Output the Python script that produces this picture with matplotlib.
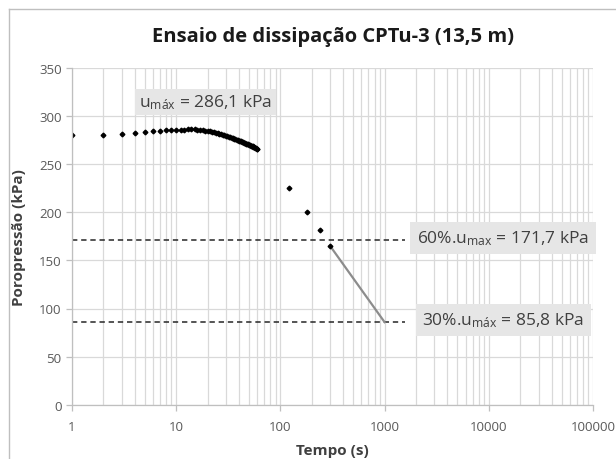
import matplotlib
matplotlib.use("Agg")
import matplotlib.pyplot as plt
from matplotlib.lines import Line2D
import numpy as np

# ---- data ----
time_s = list(range(1, 61)) + [120, 180, 240, 300]
pore_kpa = [280.0, 280.2, 281.3, 282.6, 283.4, 284.2, 284.7, 285.1, 285.4, 285.7,
            285.9, 286.0, 286.1, 286.1, 286.1, 285.9, 285.7, 285.4, 285.0, 284.6,
            284.1, 283.6, 283.1, 282.6, 282.1, 281.6, 281.1, 280.6, 280.1, 279.6,
            279.1, 278.6, 278.1, 277.6, 277.1, 276.6, 276.1, 275.6, 275.1, 274.6,
            274.1, 273.7, 273.2, 272.8, 272.3, 271.9, 271.4, 271.0, 270.5, 270.1,
            269.7, 269.2, 268.8, 268.4, 268.0, 267.5, 267.1, 266.7, 266.3, 265.9,
            225.0, 200.4, 181.2, 165.0]
u_max = 286.1
u_60 = 171.7
u_30 = 85.8
t50_line_t = [300, 1000]
t50_line_u = [165.0, 85.8]
dash_t = [1, 1570]

title = "Ensaio de dissipação CPTu-3 (13,5 m)"
xlabel = "Tempo (s)"
ylabel = "Poropressão (kPa)"
xticks = [1, 10, 100, 1000, 10000, 100000]
xticklabels = ["1", "10", "100", "1000", "10000", "100000"]
yticks = [0, 50, 100, 150, 200, 250, 300, 350]

FONT = "Open Sans"
plt.rcParams['font.family'] = [FONT, 'DejaVu Sans']
plt.rcParams['mathtext.fontset'] = 'custom'
plt.rcParams['mathtext.rm'] = FONT
plt.rcParams['mathtext.it'] = FONT
plt.rcParams['mathtext.bf'] = FONT + ':bold'

W, H = 616, 460
fig = plt.figure(figsize=(W / 100, H / 100), dpi=100)
fig.patch.set_facecolor('white')

ax = fig.add_axes([72 / W, 1 - 405.7 / H, (593 - 72) / W, (405.7 - 69) / H])
ax.set_xscale('log')
ax.set_xlim(1, 100000)
ax.set_ylim(0, 350)

grid_c = '#d9d9d9'
ax.set_xticks(xticks)
ax.set_xticklabels(xticklabels)
ax.set_yticks(yticks)
ax.xaxis.set_minor_locator(matplotlib.ticker.LogLocator(base=10, subs=np.arange(2, 10)))
ax.xaxis.set_minor_formatter(matplotlib.ticker.NullFormatter())
ax.grid(True, which='major', axis='both', color=grid_c, lw=0.9)
ax.grid(True, which='minor', axis='x', color=grid_c, lw=0.9)
ax.set_axisbelow(True)

for s in ['top', 'right']:
    ax.spines[s].set_visible(False)
for s in ['left', 'bottom']:
    ax.spines[s].set_color('#bfbfbf')
    ax.spines[s].set_linewidth(0.9)

ax.tick_params(axis='both', which='major', colors='#bfbfbf', labelcolor='#595959',
               labelsize=9.5, length=4, width=0.9)
ax.tick_params(axis='x', which='minor', length=0)
ax.tick_params(axis='x', pad=7)

# dashed reference lines
ax.plot(dash_t, [u_60, u_60], ls=(0, (3.5, 2.5)), color='#262626', lw=1.1)
ax.plot(dash_t, [u_30, u_30], ls=(0, (3.5, 2.5)), color='#262626', lw=1.1)

# gray t50 line
ax.plot(t50_line_t, t50_line_u, color='#8c8c8c', lw=1.6)

# data points
ax.plot(time_s, pore_kpa, ls='none', marker='D', ms=2.4, color='black')

ax.set_xlabel(xlabel, fontsize=11, fontweight='bold', color='#404040', labelpad=7)
ax.set_ylabel(ylabel, fontsize=11, fontweight='bold', color='#404040', labelpad=9)

fig.text(333 / W, 1 - 37 / H, title, ha='center', va='center', fontsize=14.5,
         fontweight='bold', color='#1a1a1a')

box = dict(facecolor='#e6e6e6', edgecolor='none', boxstyle='square,pad=0.2')
fig.text(205.5 / W, 1 - 102.8 / H, r'u$_{\mathrm{máx}}$ = 286,1 kPa', ha='center', va='center',
         fontsize=12.5, color='#404040', bbox=box)
box2 = dict(facecolor='#e6e6e6', edgecolor='none', boxstyle='square,pad=0.4')
fig.text(503 / W, 1 - 238.8 / H, r'60%.u$_{\mathrm{max}}$ = 171,7 kPa', ha='center', va='center',
         fontsize=12.5, color='#404040', bbox=box2)
fig.text(503.5 / W, 1 - 321 / H, r'30%.u$_{\mathrm{máx}}$ = 85,8 kPa', ha='center', va='center',
         fontsize=12.5, color='#404040', bbox=box2)

# chart-area border (left and top visible)
fig.add_artist(Line2D([9 / W, 9 / W], [0, 1 - 10 / H], transform=fig.transFigure,
                      color='#bfbfbf', lw=1))
fig.add_artist(Line2D([9 / W, 1], [1 - 10 / H, 1 - 10 / H], transform=fig.transFigure,
                      color='#bfbfbf', lw=1))

fig.savefig('out.png', dpi=100)
